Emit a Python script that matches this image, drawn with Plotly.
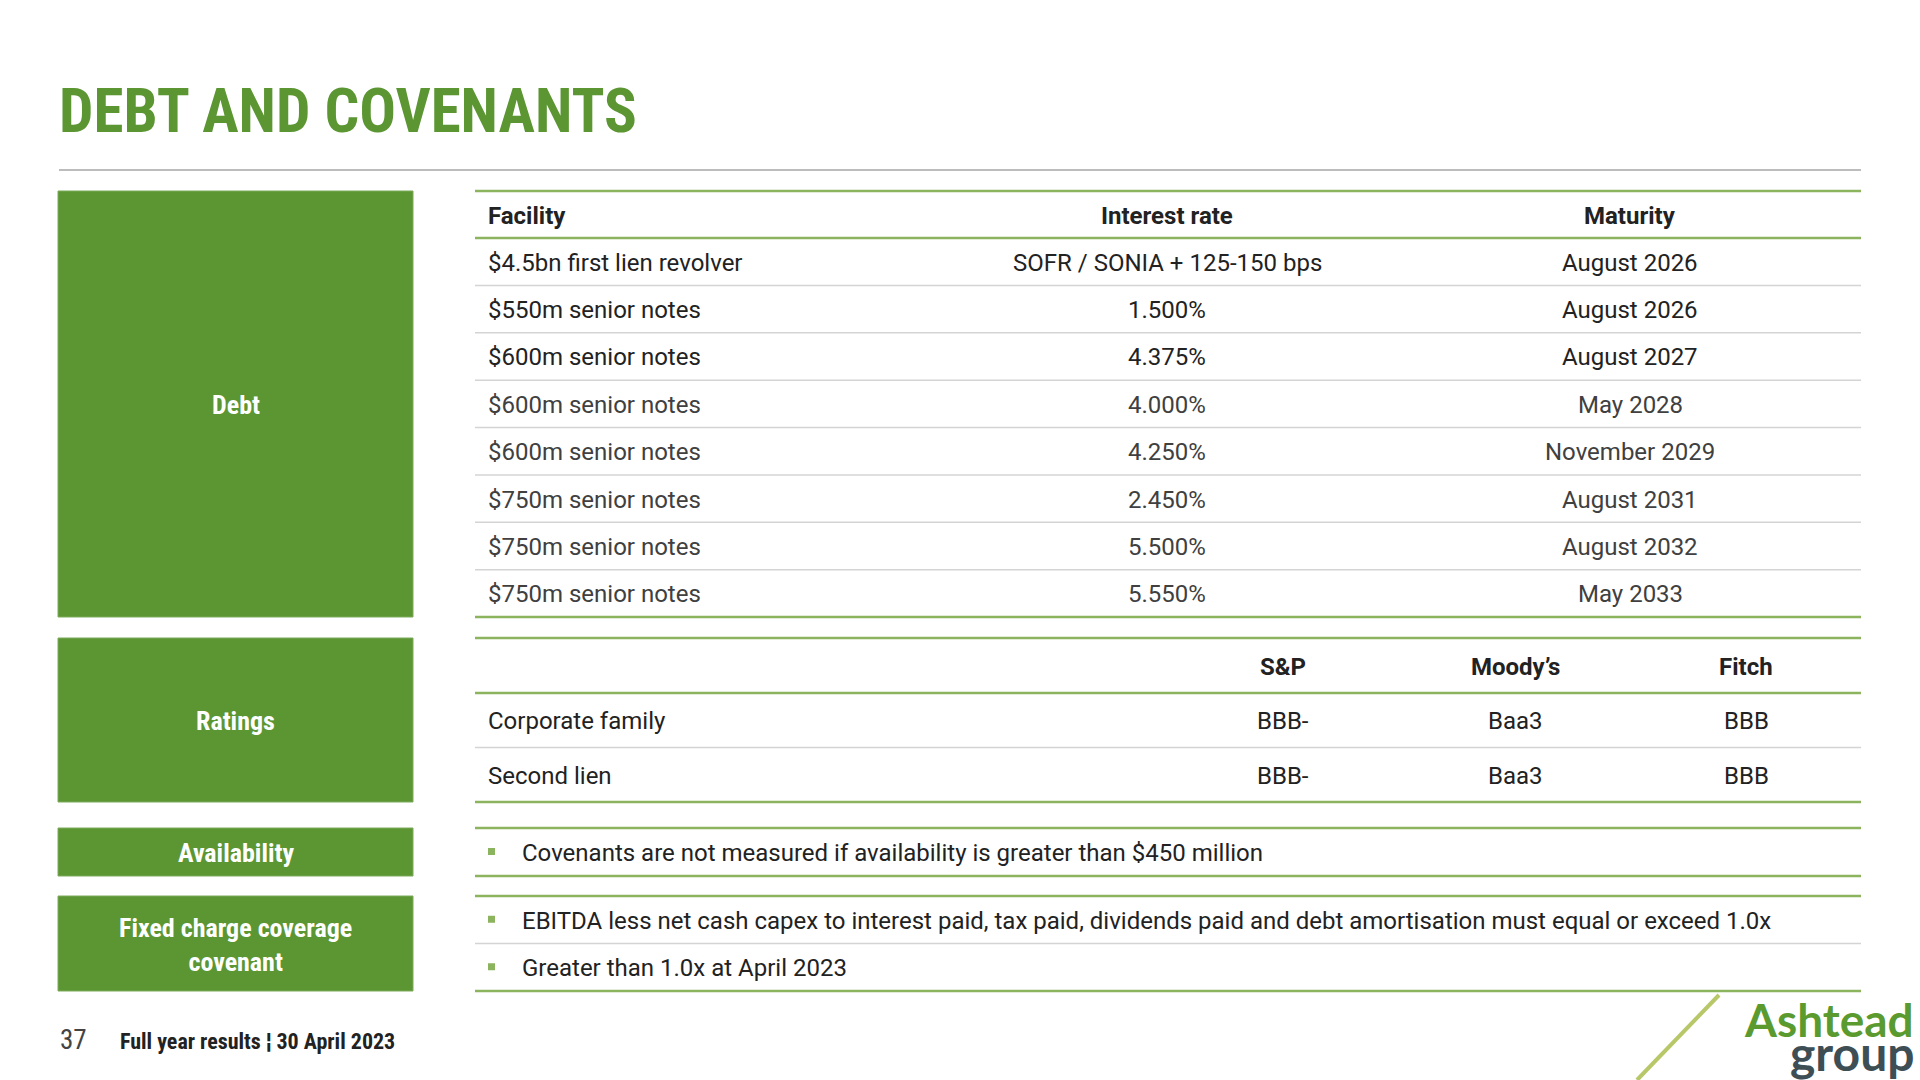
import plotly.graph_objects as go

# ---- data ----
facilities = [
    "$4.5bn first lien revolver",
    "$550m senior notes",
    "$600m senior notes",
    "$600m senior notes",
    "$600m senior notes",
    "$750m senior notes",
    "$750m senior notes",
    "$750m senior notes",
]
interest_rates = [
    "SOFR / SONIA + 125-150 bps",
    "1.500%",
    "4.375%",
    "4.000%",
    "4.250%",
    "2.450%",
    "5.500%",
    "5.550%",
]
maturities = [
    "August 2026",
    "August 2026",
    "August 2027",
    "May 2028",
    "November 2029",
    "August 2031",
    "August 2032",
    "May 2033",
]
debt_headers = ["Facility", "Interest rate", "Maturity"]

rating_headers = ["", "S&P", "Moody\u2019s", "Fitch"]
rating_rows = ["Corporate family", "Second lien"]
sp_ratings = ["BBB-", "BBB-"]
moodys_ratings = ["Baa3", "Baa3"]
fitch_ratings = ["BBB", "BBB"]

availability_points = [
    "Covenants are not measured if availability is greater than $450 million",
]
covenant_points = [
    "EBITDA less net cash capex to interest paid, tax paid, dividends paid and debt amortisation must equal or exceed 1.0x",
    "Greater than 1.0x at April 2023",
]
section_labels = ["Debt", "Ratings", "Availability", "Fixed charge coverage<br>covenant"]

title = "DEBT AND COVENANTS"
page_number = "37"
footer = "Full year results \u00a6 30 April 2023"

# ---- style ----
GREEN = "#5B9632"
LINE_GREEN = "#8CB35E"
SEP_GREY = "#D4D4D4"
DARK = "#222222"
COND = "Roboto Condensed, Liberation Sans Narrow, DejaVu Sans Condensed, Roboto, sans-serif"
ROBOTO = "Roboto, sans-serif"

BOX_L, BOX_R = 58, 413
TAB_L, TAB_R = 475, 1861
TEXT_X = 486

fig = go.Figure()
shapes = []
ann = []


def hline(y, color=LINE_GREEN, width=2.5):
    shapes.append(dict(type="line", xref="x", yref="y", x0=TAB_L, x1=TAB_R,
                       y0=y, y1=y, line=dict(color=color, width=width)))


def text(x, y, s, size=24, color=DARK, bold=False, anchor="left", family=ROBOTO):
    ann.append(dict(x=x, y=y, xref="x", yref="y", text=s, showarrow=False,
                    xanchor=anchor, yanchor="middle",
                    font=dict(family=family, size=size, color=color,
                              weight=700 if bold else 400)))


def box(y0, y1, label):
    shapes.append(dict(type="rect", xref="x", yref="y", x0=BOX_L, x1=BOX_R,
                       y0=y0, y1=y1, fillcolor=GREEN,
                       line=dict(color="#7FAA5A", width=1)))
    text((BOX_L + BOX_R) / 2, (y0 + y1) / 2 + 1, label, size=26, color="white",
         bold=True, anchor="center", family=COND)


# title + rule
text(57, 111, title, size=61, color=GREEN, bold=True, family=COND)
shapes.append(dict(type="line", xref="x", yref="y", x0=59, x1=1861, y0=170, y1=170,
                   line=dict(color="#A6A6A6", width=1.5)))

# ---- debt table ----
t_top, t_head = 191, 238
row_h = (617 - t_head) / len(facilities)
box(t_top, 617, section_labels[0])
hline(t_top)
hline(t_head)
col_x = [TEXT_X, 1167, 1630]
col_anchor = ["left", "center", "center"]
for j, h in enumerate(debt_headers):
    text(col_x[j], (t_top + t_head) / 2 + 1, h, bold=True, anchor=col_anchor[j])
for i in range(len(facilities)):
    yc = t_head + row_h * (i + 0.5) + 1
    color = DARK if i < 3 else "#404040"
    for j, vals in enumerate([facilities, interest_rates, maturities]):
        text(col_x[j], yc, vals[i], color=color, anchor=col_anchor[j])
    if i < len(facilities) - 1:
        hline(t_head + row_h * (i + 1), color=SEP_GREY, width=1.5)
hline(617)

# ---- ratings table ----
r_top, r_head, r_bot = 638, 693, 802
r_row_h = (r_bot - r_head) / len(rating_rows)
box(r_top, r_bot, section_labels[1])
hline(r_top)
hline(r_head)
r_x = [TEXT_X, 1283, 1515, 1746]
for j, h in enumerate(rating_headers):
    if h:
        text(r_x[j], (r_top + r_head) / 2 + 1, h, bold=True, anchor="center")
for i, name in enumerate(rating_rows):
    yc = r_head + r_row_h * (i + 0.5) + 1
    text(r_x[0], yc, name)
    for j, vals in enumerate([sp_ratings, moodys_ratings, fitch_ratings]):
        text(r_x[j + 1], yc, vals[i], anchor="center")
    if i < len(rating_rows) - 1:
        hline(r_head + r_row_h * (i + 1), color=SEP_GREY, width=1.5)
hline(r_bot)


# ---- bullet sections ----
def bullets(y0, y1, points, label):
    box(y0, y1, label)
    hline(y0)
    h = (y1 - y0) / len(points)
    for i, p in enumerate(points):
        yc = y0 + h * (i + 0.5)
        shapes.append(dict(type="rect", xref="x", yref="y", x0=488, x1=495,
                           y0=yc - 4, y1=yc + 3, fillcolor=LINE_GREEN, line_width=0))
        text(520, yc + 1, p)
        if i < len(points) - 1:
            hline(y0 + h * (i + 1), color=SEP_GREY, width=1.5)
    hline(y1)


bullets(828, 876, availability_points, section_labels[2])
bullets(896, 991, covenant_points, section_labels[3])

# ---- footer ----
text(58, 1040, page_number, size=27, color="#444444",
     family="Roboto Condensed, Liberation Sans Narrow, DejaVu Sans Condensed, sans-serif")
text(118, 1041, footer, size=22, bold=True, family=COND)

# logo
shapes.append(dict(type="line", xref="x", yref="y", x0=1637, x1=1719, y0=1080, y1=995,
                   line=dict(color="#B8C868", width=4)))
text(1916, 1019, "Ashtead", size=46, color="#5A9A2E", bold=True,
     anchor="right", family="Lato, sans-serif")
text(1916, 1052, "group", size=48, color="#3E4E55", bold=True,
     anchor="right", family="Lato, sans-serif")

fig.update_layout(
    width=1920,
    height=1080,
    margin=dict(l=0, r=0, t=0, b=0),
    paper_bgcolor="white",
    plot_bgcolor="white",
    xaxis=dict(range=[0, 1920], visible=False, fixedrange=True),
    yaxis=dict(range=[1080, 0], visible=False, fixedrange=True),
    shapes=shapes,
    annotations=ann,
    showlegend=False,
)

fig.write_html(
    "out.html",
    config={"displayModeBar": False, "staticPlot": True},
    post_script="document.body.style.margin='0';",
)
